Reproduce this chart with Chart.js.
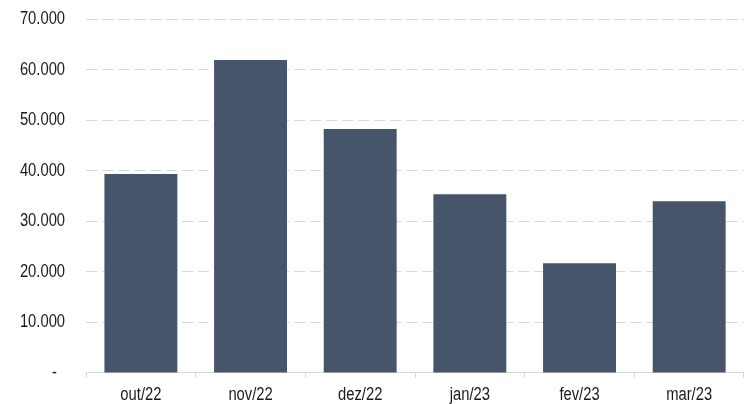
<!DOCTYPE html>
<html>
<head>
<meta charset="utf-8">
<script src="https://cdn.jsdelivr.net/npm/chart.js@4"></script>
<style>
  html, body { margin: 0; padding: 0; background: #ffffff; }
  #wrap { width: 744px; height: 404px; position: relative; }
</style>
</head>
<body>
<div id="wrap"><canvas id="c"></canvas></div>
<script>
const categories = ['out/22', 'nov/22', 'dez/22', 'jan/23', 'fev/23', 'mar/23'];
const values = [39400, 62000, 48300, 35400, 21700, 34000];
const yTicks = [0, 10000, 20000, 30000, 40000, 50000, 60000, 70000];

const FONT = "'Liberation Sans', Arial, sans-serif";
const NARROW = 0.82; // emulate a narrow sans face

function fmt(v) {
  if (v === 0) return '-  ';
  return v.toLocaleString('de-DE');
}

// Draw text condensed horizontally around its anchor point
const narrowText = {
  id: 'narrowText',
  beforeDraw(chart) {
    const ctx = chart.ctx;
    if (ctx.__narrowed) return;
    const orig = ctx.fillText.bind(ctx);
    ctx.fillText = function (text, x, y, maxWidth) {
      ctx.save();
      ctx.translate(x, y);
      ctx.scale(NARROW, 1);
      if (maxWidth !== undefined) orig(text, 0, 0, maxWidth / NARROW);
      else orig(text, 0, 0);
      ctx.restore();
    };
    ctx.__narrowed = true;
  }
};

new Chart(document.getElementById('c'), {
  type: 'bar',
  data: {
    labels: categories,
    datasets: [{
      data: values,
      backgroundColor: '#465569',
      borderWidth: 0,
      categoryPercentage: 1,
      barPercentage: 0.665
    }]
  },
  plugins: [narrowText],
  options: {
    responsive: true,
    maintainAspectRatio: false,
    animation: false,
    layout: { padding: { left: 10, right: 0, top: 19.5, bottom: -7.5 } },
    plugins: { legend: { display: false }, tooltip: { enabled: false } },
    scales: {
      x: {
        grid: {
          display: true,
          offset: true,
          drawOnChartArea: false,
          drawTicks: true,
          tickLength: 5,
          color: '#d9d9d9'
        },
        border: { display: true, color: '#d9d9d9', width: 1 },
        ticks: {
          color: '#1a1a1a',
          font: { family: FONT, size: 18 },
          padding: 6,
          maxRotation: 0
        }
      },
      y: {
        min: 0,
        max: 70000,
        afterBuildTicks: (axis) => { axis.ticks = yTicks.map(v => ({ value: v })); },
        grid: {
          color: (ctx) => ctx.tick && ctx.tick.value === 0 ? 'rgba(0,0,0,0)' : '#d9d9d9',
          lineWidth: 1,
          drawTicks: true,
          tickLength: 21,
          tickColor: 'rgba(0,0,0,0)'
        },
        border: { display: false, dash: [11, 5] },
        ticks: {
          color: '#1a1a1a',
          font: { family: FONT, size: 18 },
          padding: 0,
          callback: (v) => fmt(v)
        }
      }
    }
  }
});
</script>
</body>
</html>
